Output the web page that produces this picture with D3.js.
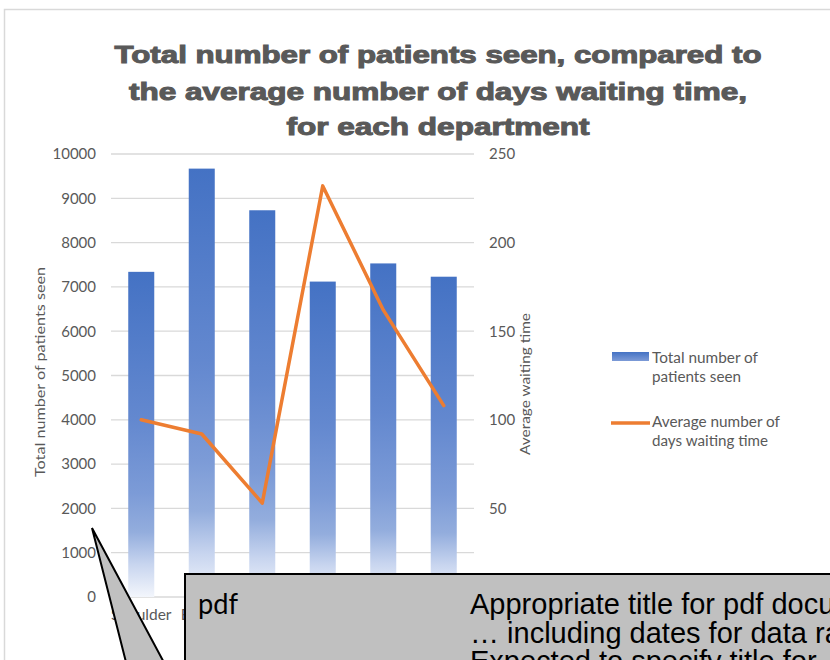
<!DOCTYPE html>
<html><head><meta charset="utf-8">
<script src="https://cdn.jsdelivr.net/npm/d3@7"></script>
<style>
html,body{margin:0;padding:0;background:#fff;}
svg{display:block;}
</style></head>
<body>
<svg id="chart" width="830" height="660"></svg>
<script>
// ---- data ----
const categories = ["Shoulder", "Elbow", "Hand", "Hip", "Knee", "Foot"];
const patientsSeen = [7340, 9670, 8730, 7120, 7530, 7230];
const avgWaitDays = [100, 92, 53, 232, 162, 108];
const leftTicks = [0, 1000, 2000, 3000, 4000, 5000, 6000, 7000, 8000, 9000, 10000];
const rightTicks = [0, 50, 100, 150, 200, 250];
const titleLines = ["Total number of patients seen, compared to", "the average number of days waiting time,", "for each department"];
const calloutLines = ["Appropriate title for pdf document", "\u2026 including dates for data range", "Expected to specify title for"];

const svg = d3.select("#chart");
const grey = "#595959";
const font = "Lato, 'Open Sans', sans-serif";

// chart area border
svg.append("rect").attr("x", 4.5).attr("y", 9.5).attr("width", 900).attr("height", 700)
  .attr("fill", "#fff").attr("stroke", "#d9d9d9").attr("stroke-width", 1.5);

// gradient
const defs = svg.append("defs");
const grad = defs.append("linearGradient").attr("id", "barGrad")
  .attr("x1", 0).attr("y1", 0).attr("x2", 0).attr("y2", 1);
[[0, "#4472C4"], [0.45, "#6388cf"], [0.68, "#7c9bd7"], [0.8, "#93addd"], [0.9, "#c8d5ef"], [1, "#f3f6fc"]]
  .forEach(([o, c]) => grad.append("stop").attr("offset", o).attr("stop-color", c));

// scales
const plotL = 111, plotR = 474, plotT = 154, plotB = 597;
const x = d3.scaleBand().domain(categories).range([plotL, plotR]).paddingInner(0.57).paddingOuter(0.285);
const yL = d3.scaleLinear().domain([0, 10000]).range([plotB, plotT]);
const yR = d3.scaleLinear().domain([0, 250]).range([plotB, plotT]);

// gridlines
svg.append("g").selectAll("line").data(leftTicks).join("line")
  .attr("x1", plotL).attr("x2", plotR)
  .attr("y1", d => yL(d)).attr("y2", d => yL(d))
  .attr("stroke", "#d9d9d9").attr("stroke-width", 1.3);

// left axis
const gL = svg.append("g").attr("transform", `translate(${plotL},0)`)
  .call(d3.axisLeft(yL).tickValues(leftTicks).tickSize(0).tickPadding(15).tickFormat(d3.format("d")));
gL.select(".domain").remove();
gL.selectAll("text").attr("fill", grey).attr("font-size", 15).attr("font-family", font);

// right axis
const gR = svg.append("g").attr("transform", `translate(${plotR},0)`)
  .call(d3.axisRight(yR).tickValues(rightTicks).tickSize(0).tickPadding(15).tickFormat(d3.format("d")));
gR.select(".domain").remove();
gR.selectAll("text").attr("fill", grey).attr("font-size", 15).attr("font-family", font);

// bottom axis labels
const gB = svg.append("g").attr("transform", `translate(0,${plotB})`)
  .call(d3.axisBottom(x).tickSize(0).tickPadding(12));
gB.select(".domain").remove();
gB.selectAll("text").attr("fill", grey).attr("font-size", 15.5).attr("font-family", font);

// axis titles
svg.append("text").attr("transform", "translate(45,372) rotate(-90)")
  .attr("text-anchor", "middle").attr("fill", grey).attr("font-size", 14).attr("font-family", font)
  .attr("textLength", 210).attr("lengthAdjust", "spacingAndGlyphs")
  .text("Total number of patients seen");
svg.append("text").attr("transform", "translate(530,384) rotate(-90)")
  .attr("text-anchor", "middle").attr("fill", grey).attr("font-size", 14).attr("font-family", font)
  .attr("textLength", 142).attr("lengthAdjust", "spacingAndGlyphs")
  .text("Average waiting time");

// bars
svg.append("g").selectAll("rect").data(categories).join("rect")
  .attr("x", d => x(d)).attr("width", x.bandwidth())
  .attr("y", (d, i) => yL(patientsSeen[i]))
  .attr("height", (d, i) => yL(0) - yL(patientsSeen[i]))
  .attr("fill", "url(#barGrad)");

// line
const line = d3.line().x((d, i) => x(categories[i]) + x.bandwidth() / 2).y(d => yR(d));
svg.append("path").datum(avgWaitDays).attr("d", line)
  .attr("fill", "none").attr("stroke", "#ED7D31").attr("stroke-width", 3.5)
  .attr("stroke-linejoin", "round").attr("stroke-linecap", "round");

// title
const titleY = [63, 100, 135];
const titleW = [647, 618, 303];
svg.append("g").selectAll("text").data(titleLines).join("text")
  .attr("x", 438).attr("y", (d, i) => titleY[i]).attr("text-anchor", "middle")
  .attr("fill", grey).attr("stroke", grey).attr("stroke-width", 1)
  .attr("font-size", 23).attr("font-weight", "bold")
  .attr("font-family", "'Liberation Sans', Arial, sans-serif")
  .attr("textLength", (d, i) => titleW[i]).attr("lengthAdjust", "spacingAndGlyphs")
  .text(d => d);

// legend
const lg = svg.append("g");
const lgGrad = defs.append("linearGradient").attr("id", "legGrad").attr("x1", 0).attr("y1", 0).attr("x2", 0).attr("y2", 1);
lgGrad.append("stop").attr("offset", 0).attr("stop-color", "#4472C4");
lgGrad.append("stop").attr("offset", 1).attr("stop-color", "#7d9bd7");
lg.append("rect").attr("x", 612).attr("y", 352).attr("width", 37).attr("height", 9).attr("fill", "url(#legGrad)");
lg.append("line").attr("x1", 611).attr("x2", 650).attr("y1", 423).attr("y2", 423)
  .attr("stroke", "#ED7D31").attr("stroke-width", 3.5);
const legTexts = [["Total number of", 363, 106], ["patients seen", 382, 89], ["Average number of", 427, 128], ["days waiting time", 446, 116]];
lg.selectAll("text").data(legTexts).join("text")
  .attr("x", 652).attr("y", d => d[1]).attr("fill", grey).attr("font-size", 14.5).attr("font-family", font)
  .attr("textLength", d => d[2]).attr("lengthAdjust", "spacingAndGlyphs")
  .text(d => d[0]);

// callout overlay
const co = svg.append("g");
co.append("polygon").attr("points", "92,528 128,670 168,670")
  .attr("fill", "#c0c0c0").attr("stroke", "#000").attr("stroke-width", 2).attr("stroke-linejoin", "miter");
co.append("rect").attr("x", 185).attr("y", 574).attr("width", 700).attr("height", 150)
  .attr("fill", "#c0c0c0").attr("stroke", "#000").attr("stroke-width", 2);
co.append("text").attr("x", 198).attr("y", 614).attr("font-size", 29).attr("fill", "#000")
  .attr("font-family", "Lato, 'Noto Sans', sans-serif").attr("textLength", 40).attr("lengthAdjust", "spacingAndGlyphs")
  .text("pdf");
co.selectAll("text.cl").data(calloutLines).join("text").attr("class", "cl")
  .attr("x", 470).attr("y", (d, i) => 614 + i * 28.5)
  .attr("font-size", 29).attr("fill", "#000").attr("font-family", "'Liberation Sans', Arial, sans-serif")
  .text(d => d);
</script>
</body></html>
